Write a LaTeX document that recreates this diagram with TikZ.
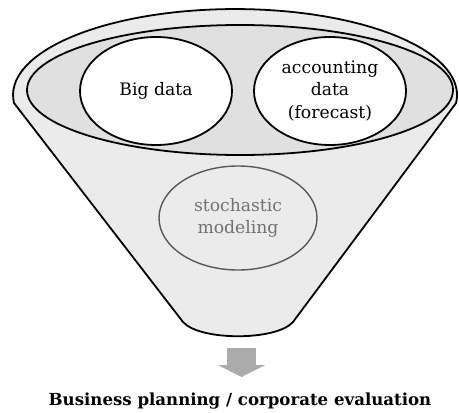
\documentclass[tikz,border=0pt]{standalone}
\usepackage{fontspec}
\setmainfont{DejaVu Serif}
\usetikzlibrary{shapes.geometric,arrows.meta}

\definecolor{funnelgray}{HTML}{EBEBEB}
\definecolor{poolgray}{HTML}{E0E0E0}
\definecolor{modelgray}{HTML}{585858}
\definecolor{arrowgray}{HTML}{ABABAB}

\begin{document}
\begin{tikzpicture}[x=0.5pt, y=-0.5pt,
    funnel/.style={draw, line width=0.9pt, fill=funnelgray},
    pool/.style={ellipse, draw, line width=0.9pt, fill=poolgray, inner sep=0pt},
    source/.style={ellipse, draw, line width=0.9pt, fill=white, inner sep=0pt,
      minimum width=76pt, minimum height=54pt, align=center,
      font=\fontsize{8.6}{11.2}\selectfont},
    model/.style={ellipse, draw=modelgray, line width=0.7pt, inner sep=0pt,
      minimum width=79pt, minimum height=52pt, align=center,
      text=modelgray!85, font=\fontsize{8.6}{11.2}\selectfont},
    bigarrow/.style={arrowgray, line width=14.5pt,
      -{Triangle[length=6pt, width=23.5pt]}}]
  \useasboundingbox (0,0) rectangle (459,412);

  % funnel body
  \draw[funnel] (14,103)
    arc[start angle=185.3, end angle=-5.3, x radius=111pt, y radius=43pt]
    -- (293,322) .. controls (276,341) and (200,341) .. (183,322) -- cycle;

  % data pool with the two sources
  \node[pool, minimum width=213pt, minimum height=65pt] (pool) at (240,90) {};
  \node[source] (bigdata) at (156,91) {Big data};
  \node[source] (accounting) at (330,91) {accounting\\data\\(forecast)};

  % model
  \node[model] (model) at (238,218) {stochastic\\modeling};

  % result
  \coordinate (out) at (241.5,348);
  \coordinate (in) at (241.5,377);
  \draw[bigarrow] (out) -- (in);
  \node[font=\fontsize{8.3}{10}\selectfont\bfseries] (result) at (240,401)
    {Business planning / corporate evaluation};
\end{tikzpicture}
\end{document}
